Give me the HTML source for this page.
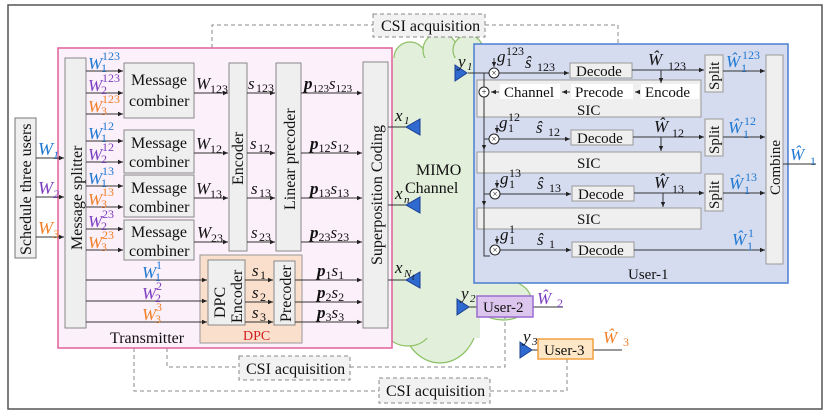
<!DOCTYPE html>
<html><head><meta charset="utf-8"><style>
html,body{margin:0;padding:0;background:#fff}
svg{display:block}
text{font-family:"Liberation Serif",serif;fill:#111}
.m{font-style:italic}
.b{fill:#1f78d1}.p{fill:#7b3fbf}.o{fill:#f0802a}
</style></head><body>
<svg width="830" height="417" viewBox="0 0 830 417" xmlns="http://www.w3.org/2000/svg">
<defs>
<marker id="a" markerWidth="6" markerHeight="6" refX="5" refY="3" orient="auto" markerUnits="userSpaceOnUse"><path d="M0,0.8 L5,3 L0,5.2z" fill="#222"/></marker>
</defs>
<path d="M8,5 H822 V409 H8 Z" fill="none" stroke="#555" stroke-width="1.5"/>
<g stroke="#8cc063" stroke-width="1.2" fill="#e2efda">
<circle cx="410" cy="58" r="16"/><circle cx="440" cy="50" r="17"/><circle cx="468" cy="50" r="15"/>
<ellipse cx="440" cy="318" rx="38" ry="45"/>
<ellipse cx="408" cy="330" rx="22" ry="16"/>
<ellipse cx="503" cy="300" rx="28" ry="20"/>
</g>
<g fill="#e2efda">
<rect x="390" y="58" width="90" height="280"/>
<rect x="470" y="270" width="40" height="40"/>
</g>
<g fill="none" stroke="#888" stroke-dasharray="4,3" stroke-width="1">
<path d="M212,48 V25 H373"/><path d="M485,25 H618 V44"/>
<path d="M167,348 V367 H239"/><path d="M350,367 H505 V317"/>
<path d="M134,348 V391 H379"/><path d="M490,391 H567 V359"/>
</g>
<g fill="#f2f2f2" stroke="#888" stroke-dasharray="4,3">
<rect x="373" y="14" width="112" height="23"/><rect x="239" y="356" width="111" height="24"/><rect x="379" y="378" width="111" height="25"/>
</g>
<g font-size="16"><text x="381" y="31">CSI acquisition</text><text x="246" y="374">CSI acquisition</text><text x="386" y="396">CSI acquisition</text></g>
<text x="416" y="175" font-size="16">MIMO</text><text x="405" y="193" font-size="16">Channel</text>

<rect x="15" y="118" width="21" height="140" fill="#efefef" stroke="#777"/>
<text transform="translate(31,255) rotate(-90)" font-size="16">Schedule three users</text>
<rect x="58" y="48" width="334" height="300" fill="#fcf0fb" stroke="#e0609a" stroke-width="1.5"/>
<text x="110" y="343" font-size="16">Transmitter</text>
<rect x="200" y="255" width="102" height="88" fill="#f9dfcc" stroke="#999"/>
<text x="243" y="340" font-size="14" style="fill:#d02020">DPC</text>
<g fill="#efefef" stroke="#888">
<rect x="65" y="58" width="21" height="270"/>
<rect x="124" y="63" width="70" height="55"/><rect x="124" y="130" width="70" height="43"/>
<rect x="124" y="175" width="70" height="42"/><rect x="124" y="220" width="70" height="40"/>
<rect x="229" y="63" width="18" height="188"/><rect x="276" y="63" width="25" height="188"/>
<rect x="363" y="62" width="25" height="266"/>
<rect x="208" y="260" width="37" height="65"/><rect x="274" y="261" width="21" height="64"/>
</g>
<g font-size="16">
<text transform="translate(82,250) rotate(-90)">Message splitter</text>
<text transform="translate(243,185) rotate(-90)">Encoder</text>
<text transform="translate(295,210) rotate(-90)">Linear precoder</text>
<text transform="translate(382,265) rotate(-90)">Superposition Coding</text>
<text transform="translate(225,318) rotate(-90)">DPC</text>
<text transform="translate(242,323) rotate(-90)">Encoder</text>
<text transform="translate(291,322) rotate(-90)">Precoder</text>
<text x="131" y="85">Message</text><text x="129" y="106">combiner</text>
<text x="131" y="148">Message</text><text x="129" y="167">combiner</text>
<text x="131" y="193">Message</text><text x="129" y="212">combiner</text>
<text x="131" y="237">Message</text><text x="129" y="256">combiner</text>
</g>
<g stroke="#333" stroke-width="1" marker-end="url(#a)" fill="none">
<path d="M36,158 H64"/><path d="M36,197 H64"/><path d="M36,237 H64"/>
<path d="M86,71 H123"/><path d="M86,93 H123"/><path d="M86,114 H123"/>
<path d="M86,141 H123"/><path d="M86,162 H123"/><path d="M86,186 H123"/><path d="M86,207 H123"/>
<path d="M86,229 H123"/><path d="M86,250 H123"/>
<path d="M86,280 H207"/><path d="M86,301 H207"/><path d="M86,322 H207"/>
<path d="M194,93 H228"/><path d="M194,153 H228"/><path d="M194,198 H228"/><path d="M194,242 H228"/>
<path d="M247,93 H275"/><path d="M247,153 H275"/><path d="M247,198 H275"/><path d="M247,242 H275"/>
<path d="M301,93 H362"/><path d="M301,153 H362"/><path d="M301,198 H362"/><path d="M301,242 H362"/>
<path d="M245,280 H273"/><path d="M245,302 H273"/><path d="M245,322 H273"/>
<path d="M295,280 H362"/><path d="M295,302 H362"/><path d="M295,322 H362"/>
</g>
<g stroke="#333"><path d="M388,127 H408"/><path d="M388,205 H408"/><path d="M388,280 H408"/></g>
<g fill="#2f6ad0" stroke="#1a3f90">
<path d="M420,119 V135 L406,127Z"/><path d="M420,197 V213 L406,205Z"/><path d="M420,272 V288 L406,280Z"/>
<path d="M455,65 V81 L467,73Z"/><path d="M457,299 V315 L469,307Z"/><path d="M520,342 V358 L532,350Z"/>
</g>
<g class="m" font-size="17">
<text x="395" y="121">x</text><text x="404" y="124" font-size="11">1</text>
<text x="395" y="199">x</text><text x="404" y="203" font-size="11">n</text>
<text x="395" y="273">x</text><text x="404" y="277" font-size="11">N</text><text x="412" y="280" font-size="9">t</text>
<text x="458" y="67">y</text><text x="467" y="70" font-size="11">1</text>
<text x="461" y="299">y</text><text x="470" y="302" font-size="11">2</text>
<text x="523" y="342">y</text><text x="532" y="345" font-size="11">3</text>
</g>
<g class="m" font-size="18">
<text x="38" y="155" class="b">W</text><text x="53" y="159" font-size="12" class="b">1</text>
<text x="38" y="194" class="p">W</text><text x="53" y="198" font-size="12" class="p">2</text>
<text x="38" y="234" class="o">W</text><text x="53" y="238" font-size="12" class="o">3</text>
</g>
<g class="m" font-size="17">
<text x="88" y="69" class="b">W</text><text x="88" y="91" class="p">W</text><text x="88" y="112" class="o">W</text>
<text x="88" y="139" class="b">W</text><text x="88" y="160" class="p">W</text>
<text x="88" y="184" class="b">W</text><text x="88" y="205" class="o">W</text>
<text x="88" y="227" class="p">W</text><text x="88" y="248" class="o">W</text>
<text x="142" y="278" class="b">W</text><text x="142" y="299" class="p">W</text><text x="142" y="320" class="o">W</text>
</g>
<g font-size="12">
<text x="102" y="60" class="b">123</text><text x="101" y="72" class="b">1</text>
<text x="102" y="82" class="p">123</text><text x="101" y="94" class="p">2</text>
<text x="102" y="103" class="o">123</text><text x="101" y="115" class="o">3</text>
<text x="102" y="130" class="b">12</text><text x="101" y="142" class="b">1</text>
<text x="102" y="151" class="p">12</text><text x="101" y="163" class="p">2</text>
<text x="102" y="175" class="b">13</text><text x="101" y="187" class="b">1</text>
<text x="102" y="196" class="o">13</text><text x="101" y="208" class="o">3</text>
<text x="102" y="218" class="p">23</text><text x="101" y="230" class="p">2</text>
<text x="102" y="239" class="o">23</text><text x="101" y="251" class="o">3</text>
<text x="156" y="269" class="b">1</text><text x="155" y="281" class="b">1</text>
<text x="156" y="290" class="p">2</text><text x="155" y="302" class="p">2</text>
<text x="156" y="311" class="o">3</text><text x="155" y="323" class="o">3</text>
</g>
<g font-size="17">
<text x="196" y="89" class="m">W</text><text x="210" y="93" font-size="12">123</text>
<text x="196" y="149" class="m">W</text><text x="210" y="153" font-size="12">12</text>
<text x="196" y="194" class="m">W</text><text x="210" y="198" font-size="12">13</text>
<text x="197" y="238" class="m">W</text><text x="211" y="242" font-size="12">23</text>
<text x="248" y="89" class="m">s</text><text x="256" y="92" font-size="12">123</text>
<text x="250" y="149" class="m">s</text><text x="258" y="152" font-size="12">12</text>
<text x="251" y="194" class="m">s</text><text x="259" y="197" font-size="12">13</text>
<text x="251" y="238" class="m">s</text><text x="259" y="241" font-size="12">23</text>
<text x="252" y="276" class="m">s</text><text x="260" y="279" font-size="12">1</text>
<text x="252" y="298" class="m">s</text><text x="260" y="301" font-size="12">2</text>
<text x="252" y="318" class="m">s</text><text x="260" y="321" font-size="12">3</text>
<text x="304" y="89"><tspan font-weight="bold" font-style="italic">p</tspan><tspan font-size="11" dy="3">123</tspan><tspan font-style="italic" dy="-3">s</tspan><tspan font-size="11" dy="3">123</tspan></text>
<text x="310" y="149"><tspan font-weight="bold" font-style="italic">p</tspan><tspan font-size="12" dy="3">12</tspan><tspan font-style="italic" dy="-3">s</tspan><tspan font-size="12" dy="3">12</tspan></text>
<text x="310" y="194"><tspan font-weight="bold" font-style="italic">p</tspan><tspan font-size="12" dy="3">13</tspan><tspan font-style="italic" dy="-3">s</tspan><tspan font-size="12" dy="3">13</tspan></text>
<text x="310" y="238"><tspan font-weight="bold" font-style="italic">p</tspan><tspan font-size="12" dy="3">23</tspan><tspan font-style="italic" dy="-3">s</tspan><tspan font-size="12" dy="3">23</tspan></text>
<text x="317" y="276"><tspan font-weight="bold" font-style="italic">p</tspan><tspan font-size="12" dy="3">1</tspan><tspan font-style="italic" dy="-3">s</tspan><tspan font-size="12" dy="3">1</tspan></text>
<text x="317" y="298"><tspan font-weight="bold" font-style="italic">p</tspan><tspan font-size="12" dy="3">2</tspan><tspan font-style="italic" dy="-3">s</tspan><tspan font-size="12" dy="3">2</tspan></text>
<text x="317" y="318"><tspan font-weight="bold" font-style="italic">p</tspan><tspan font-size="12" dy="3">3</tspan><tspan font-style="italic" dy="-3">s</tspan><tspan font-size="12" dy="3">3</tspan></text>
</g>

<rect x="474" y="44" width="314" height="239" fill="#d6dcf0" stroke="#4a7fd0" stroke-width="1.5"/>
<text x="628" y="279" font-size="15">User-1</text>
<g fill="#efefef" stroke="#999">
<rect x="477" y="80" width="224" height="37"/><rect x="477" y="152" width="224" height="21"/><rect x="477" y="208" width="224" height="21"/>
<rect x="570" y="63" width="62" height="15"/><rect x="571" y="130" width="62" height="15"/><rect x="572" y="186" width="62" height="15"/><rect x="572" y="242" width="62" height="15"/>
<rect x="705" y="55" width="18" height="37"/><rect x="705" y="119" width="18" height="37"/><rect x="705" y="174" width="18" height="37"/>
<rect x="766" y="55" width="17" height="209"/>
</g>
<g fill="#fff"><rect x="500" y="84" width="60" height="15"/><rect x="571" y="84" width="62" height="15"/><rect x="641" y="84" width="58" height="15"/></g>
<g font-size="15">
<text x="576" y="76">Decode</text><text x="577" y="143">Decode</text><text x="578" y="199">Decode</text><text x="578" y="255">Decode</text>
<text x="504" y="97">Channel</text><text x="575" y="97">Precode</text><text x="645" y="97">Encode</text>
<text x="577" y="115">SIC</text><text x="577" y="168">SIC</text><text x="577" y="224">SIC</text>
<text transform="translate(719,90) rotate(-90)">Split</text><text transform="translate(719,154) rotate(-90)">Split</text><text transform="translate(719,209) rotate(-90)">Split</text>
<text transform="translate(780,195) rotate(-90)">Combine</text>
</g>
<g stroke="#333" fill="none" stroke-width="1">
<path d="M468,73 H490"/><path d="M484,73 V256 H490" /><path d="M484,139 H490"/><path d="M484,194 H490"/>
<path d="M484,117 V150" marker-end="url(#a)"/><path d="M484,173 V206" marker-end="url(#a)"/>
<path d="M498,73 H569" marker-end="url(#a)"/><path d="M498,139 H570" marker-end="url(#a)"/><path d="M498,194 H571" marker-end="url(#a)"/><path d="M498,250 H571" marker-end="url(#a)"/>
<path d="M632,70 H704" marker-end="url(#a)"/><path d="M633,137 H704" marker-end="url(#a)"/><path d="M634,193 H704" marker-end="url(#a)"/>
<path d="M661,70 V83" marker-end="url(#a)"/><path d="M661,137 V151" marker-end="url(#a)"/><path d="M663,193 V207" marker-end="url(#a)"/>
<path d="M723,71 H765" marker-end="url(#a)"/><path d="M723,137 H765" marker-end="url(#a)"/><path d="M723,193 H765" marker-end="url(#a)"/><path d="M634,250 H765" marker-end="url(#a)"/>
<path d="M494,58 V67" marker-end="url(#a)"/><path d="M497,125 V133" marker-end="url(#a)"/><path d="M497,180 V188" marker-end="url(#a)"/><path d="M497,236 V244" marker-end="url(#a)"/>
<path d="M640,92 H635" marker-end="url(#a)"/><path d="M570,92 H562" marker-end="url(#a)"/><path d="M499,92 H491" marker-end="url(#a)"/>
<path d="M783,164 H816"/>
</g>
<g fill="#fff" stroke="#222">
<circle cx="494" cy="73" r="5"/><circle cx="484" cy="92" r="5"/><circle cx="494" cy="139" r="5"/><circle cx="495" cy="194" r="5"/><circle cx="495" cy="250" r="5"/>
</g>
<g font-size="9" text-anchor="middle"><text x="494" y="76">×</text><text x="484" y="95">+</text><text x="494" y="142">×</text><text x="495" y="197">×</text><text x="495" y="253">×</text></g>
<g font-size="17">
<text x="497" y="62" class="m">g</text><text x="506" y="66" font-size="12">1</text><text x="506" y="55" font-size="12">123</text>
<text x="499" y="128" class="m">g</text><text x="508" y="132" font-size="12">1</text><text x="508" y="121" font-size="12">12</text>
<text x="500" y="184" class="m">g</text><text x="509" y="188" font-size="12">1</text><text x="509" y="177" font-size="12">13</text>
<text x="500" y="240" class="m">g</text><text x="509" y="244" font-size="12">1</text><text x="509" y="233" font-size="12">1</text>
<text x="525" y="68" class="m">ŝ</text><text x="537" y="71" font-size="12">123</text>
<text x="536" y="133" class="m">ŝ</text><text x="548" y="136" font-size="12">12</text>
<text x="537" y="189" class="m">ŝ</text><text x="549" y="192" font-size="12">13</text>
<text x="537" y="245" class="m">ŝ</text><text x="549" y="248" font-size="12">1</text>
<text x="648" y="65" class="m">Ŵ</text><text x="668" y="70" font-size="12">123</text>
<text x="654" y="132" class="m">Ŵ</text><text x="672" y="137" font-size="12">12</text>
<text x="654" y="188" class="m">Ŵ</text><text x="672" y="193" font-size="12">13</text>
</g>
<g font-size="17">
<text x="726" y="67" class="m b">Ŵ</text><text x="741" y="72" font-size="12" class="b">1</text><text x="742" y="59" font-size="12" class="b">123</text>
<text x="728" y="133" class="m b">Ŵ</text><text x="743" y="138" font-size="12" class="b">1</text><text x="744" y="125" font-size="12" class="b">12</text>
<text x="729" y="189" class="m b">Ŵ</text><text x="744" y="194" font-size="12" class="b">1</text><text x="745" y="181" font-size="12" class="b">13</text>
<text x="732" y="245" class="m b">Ŵ</text><text x="747" y="250" font-size="12" class="b">1</text><text x="748" y="237" font-size="12" class="b">1</text>
<text x="790" y="160" class="m b">Ŵ</text><text x="810" y="165" font-size="12" class="b">1</text>
</g>
<g stroke="#333"><path d="M469,307 H477"/><path d="M533,307 H563"/><path d="M532,350 H538"/><path d="M593,350 H622"/></g>
<rect x="477" y="296" width="56" height="21" fill="#dcc6ee" stroke="#9a6bd0" stroke-width="1.5"/>
<rect x="538" y="339" width="55" height="20" fill="#fde7c6" stroke="#f0a040" stroke-width="1.5"/>
<text x="483" y="312" font-size="15">User-2</text><text x="544" y="355" font-size="15">User-3</text>
<text x="537" y="304" font-size="17" class="m p">Ŵ</text><text x="557" y="307" font-size="12" class="p">2</text>
<text x="603" y="343" font-size="17" class="m o">Ŵ</text><text x="623" y="346" font-size="12" class="o">3</text>
</svg>
</body></html>
